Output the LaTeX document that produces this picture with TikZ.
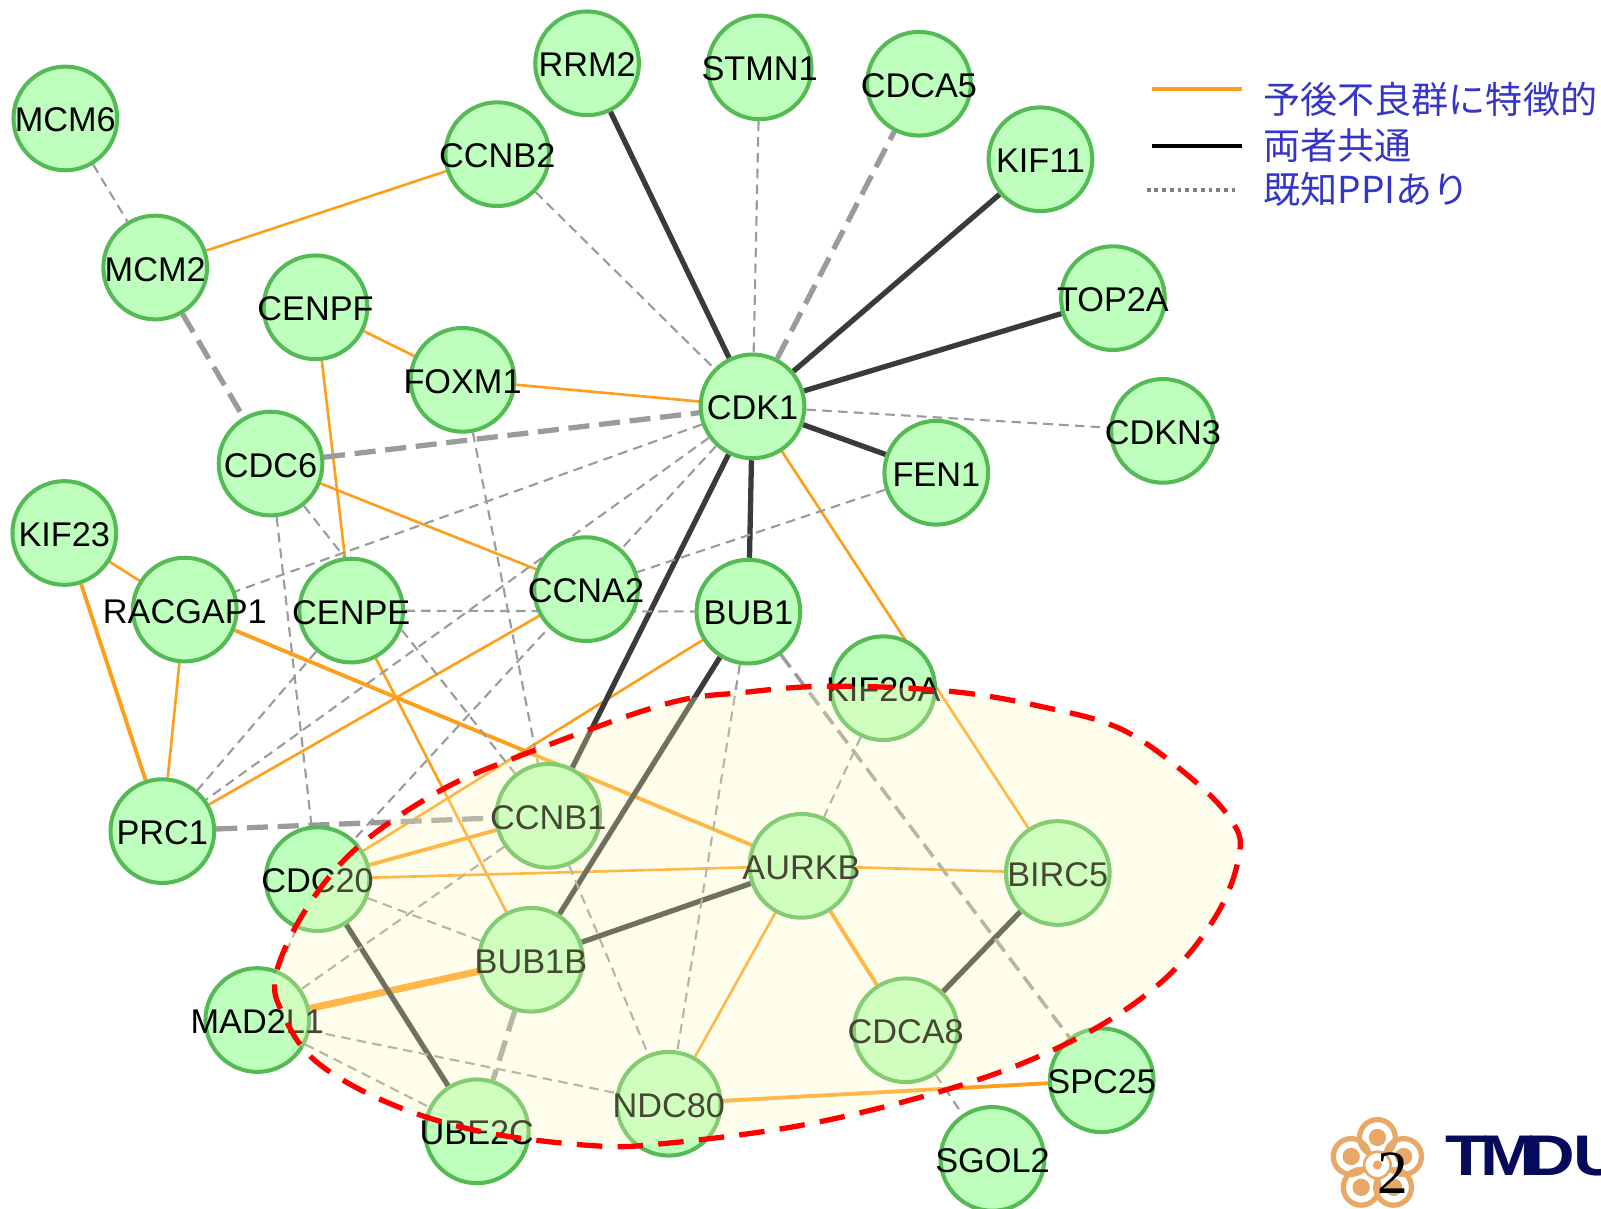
\documentclass[tikz,border=0pt]{standalone}
\usepackage{fontspec}
\setmainfont{Liberation Sans}
\newfontfamily\cjk{Noto Sans CJK JP}
\newfontfamily\pagefont{Liberation Serif}
\usetikzlibrary{positioning,backgrounds}
\definecolor{nodefill}{RGB}{190,255,190}
\definecolor{noderim}{RGB}{84,186,84}
\definecolor{edgeorange}{RGB}{255,158,27}
\definecolor{edgedark}{RGB}{58,58,58}
\definecolor{edgegrey}{RGB}{155,155,155}
\definecolor{legendblue}{RGB}{53,53,200}
\definecolor{logoorange}{RGB}{232,168,104}
\definecolor{logonavy}{RGB}{6,10,90}
\newcommand{\gn}[1]{\makebox[0pt]{\raisebox{-0.9pt}[\height][0pt]{#1}}}
\tikzset{
    gene/.style={circle,draw=noderim,fill=nodefill,line width=2.3pt,minimum size=59pt,inner sep=0pt,
        font=\fontsize{19.5}{20}\selectfont},
    orangeline/.style={edgeorange,line width=1.5pt},
    orangemid/.style={edgeorange,line width=2.2pt},
    orangewide/.style={edgeorange,line width=4pt},
    darkline/.style={edgedark,line width=3pt},
    greyline/.style={edgegrey,line width=1.2pt,dash pattern=on 5.5pt off 3.5pt},
    greywide/.style={edgegrey,line width=3pt,dash pattern=on 12pt off 5.5pt},
    legendtext/.style={legendblue,anchor=west,inner sep=0pt,font=\cjk\fontsize{21.1}{22}\selectfont},
    petal/.style={draw=logoorange,line width=3pt}
}
\begin{document}
\begin{tikzpicture}[x=0.02042cm,y=-0.02042cm]
	\useasboundingbox (0,0) rectangle (1568,1184);
	% nodes
	\node[gene] (MCM6) at (64,116) {\gn{MCM6}};
	\node[gene] (CCNB2) at (487,151) {\gn{CCNB2}};
	\node[gene] (RRM2) at (575,62) {\gn{RRM2}};
	\node[gene] (STMN1) at (744,66) {\gn{STMN1}};
	\node[gene] (CDCA5) at (900,82) {\gn{CDCA5}};
	\node[gene] (KIF11) at (1019,156) {\gn{KIF11}};
	\node[gene] (TOP2A) at (1090,292) {\gn{TOP2A}};
	\node[gene] (CDKN3) at (1139,422) {\gn{CDKN3}};
	\node[gene] (MCM2) at (152,262) {\gn{MCM2}};
	\node[gene] (CENPF) at (309,301) {\gn{CENPF}};
	\node[gene] (FOXM1) at (453,372) {\gn{FOXM1}};
	\node[gene] (CDK1) at (737,398) {\gn{CDK1}};
	\node[gene] (FEN1) at (917,463) {\gn{FEN1}};
	\node[gene] (CDC6) at (265,454) {\gn{CDC6}};
	\node[gene] (KIF23) at (63,522) {\gn{KIF23}};
	\node[gene] (RACGAP1) at (181,597) {\gn{RACGAP1}};
	\node[gene] (CENPE) at (344,598) {\gn{CENPE}};
	\node[gene] (CCNA2) at (574,577) {\gn{CCNA2}};
	\node[gene] (BUB1) at (733,599) {\gn{BUB1}};
	\node[gene] (KIF20A) at (865,674) {\gn{KIF20A}};
	\node[gene] (PRC1) at (159,814) {\gn{PRC1}};
	\node[gene] (CCNB1) at (537,799) {\gn{CCNB1}};
	\node[gene] (CDC20) at (311,861) {\gn{CDC20}};
	\node[gene] (AURKB) at (785,848) {\gn{AURKB}};
	\node[gene] (BIRC5) at (1036,855) {\gn{BIRC5}};
	\node[gene] (BUB1B) at (520,940) {\gn{BUB1B}};
	\node[gene] (MAD2L1) at (252,999) {\gn{MAD2L1}};
	\node[gene] (CDCA8) at (887,1009) {\gn{CDCA8}};
	\node[gene] (SPC25) at (1079,1058) {\gn{SPC25}};
	\node[gene] (NDC80) at (655,1081) {\gn{NDC80}};
	\node[gene] (UBE2C) at (467,1108) {\gn{UBE2C}};
	\node[gene] (SGOL2) at (972,1135) {\gn{SGOL2}};
	% edges stay behind the circles
	\begin{scope}[on background layer]
	\draw [orangeline] (MCM2) -- (CCNB2);
	\draw [orangeline] (CENPF) -- (FOXM1);
	\draw [orangeline] (FOXM1) -- (CDK1);
	\draw [orangeline] (CENPF) -- (CENPE);
	\draw [orangeline] (CDC6) -- (CCNA2);
	\draw [orangeline] (KIF23) -- (RACGAP1);
	\draw [orangemid] (KIF23) -- (PRC1);
	\draw [orangeline] (RACGAP1) -- (PRC1);
	\draw [orangemid] (RACGAP1) -- (AURKB);
	\draw [orangeline] (CENPE) -- (BUB1B);
	\draw [orangeline] (CCNA2) -- (PRC1);
	\draw [orangeline] (BUB1) -- (CDC20);
	\draw [orangeline] (CDK1) -- (BIRC5);
	\draw [orangemid] (CDC20) -- (CCNB1);
	\draw [orangeline] (CDC20) -- (AURKB);
	\draw [orangeline] (AURKB) -- (BIRC5);
	\draw [orangemid] (AURKB) -- (CDCA8);
	\draw [orangeline] (AURKB) -- (NDC80);
	\draw [orangewide] (MAD2L1) -- (BUB1B);
	\draw [orangemid] (NDC80) -- (SPC25);
	\draw [darkline] (CDK1) -- (RRM2);
	\draw [darkline] (CDK1) -- (KIF11);
	\draw [darkline] (CDK1) -- (TOP2A);
	\draw [darkline] (CDK1) -- (FEN1);
	\draw [darkline] (CDK1) -- (BUB1);
	\draw [darkline] (CDK1) -- (CCNB1);
	\draw [darkline] (BUB1) -- (BUB1B);
	\draw [darkline] (BUB1B) -- (AURKB);
	\draw [darkline] (CDC20) -- (UBE2C);
	\draw [darkline] (BIRC5) -- (CDCA8);
	\draw [greywide] (CDK1) -- (CDCA5);
	\draw [greywide] (MCM2) -- (CDC6);
	\draw [greywide] (CDC6) -- (CDK1);
	\draw [greywide] (PRC1) -- (CCNB1);
	\draw [greywide] (BUB1B) -- (UBE2C);
	\draw [greyline] (MCM6) -- (MCM2);
	\draw [greyline] (CCNB2) -- (CDK1);
	\draw [greyline] (STMN1) -- (CDK1);
	\draw [greyline] (CDK1) -- (CDKN3);
	\draw [greyline] (FEN1) -- (CCNA2);
	\draw [greyline] (CDK1) -- (RACGAP1);
	\draw [greyline] (CDK1) -- (PRC1);
	\draw [greyline] (CDK1) -- (CDC20);
	\draw [greyline] (CENPE) -- (PRC1);
	\draw [greyline] (CDC6) -- (CCNB1);
	\draw [greyline] (CDC6) -- (CDC20);
	\draw [greyline] (FOXM1) -- (CCNB1);
	\draw [greyline] (CENPE) -- (BUB1);
	\draw [greyline] (BUB1) -- (NDC80);
	\draw [greyline,line width=2pt,dash pattern=on 9pt off 4.5pt] (BUB1) -- (SPC25);
	\draw [greyline] (KIF20A) -- (AURKB);
	\draw [greyline] (CCNB1) -- (NDC80);
	\draw [greyline] (CDC20) -- (BUB1B);
	\draw [greyline] (CCNB1) -- (MAD2L1);
	\draw [greyline] (CDC20) -- (MAD2L1);
	\draw [greyline] (MAD2L1) -- (NDC80);
	\draw [greyline] (MAD2L1) -- (UBE2C);
	\draw [greyline] (CDCA8) -- (SGOL2);
	\end{scope}
	% marked region
	\draw [red,line width=3pt,dash pattern=on 14.5pt off 8.7pt,fill=yellow!25,fill opacity=0.28,draw opacity=1]
		plot [smooth cycle,tension=0.6] coordinates {(815,672) (930,677) (1020,692) (1100,715) (1170,765) (1207,805) (1214,835) (1195,890)
		(1150,950) (1085,1000) (1000,1042) (900,1075) (780,1103) (650,1120) (580,1122) (470,1108) (380,1080) (310,1040)
		(278,995) (270,955) (300,890) (350,830) (430,775) (510,740) (650,690) (730,678)};
	% legend
	\coordinate (legA) at (1128,87);
	\coordinate (legB) at (1216,87);
	\coordinate (legC) at (1128,143);
	\coordinate (legD) at (1216,143);
	\coordinate (legE) at (1123,186);
	\coordinate (legF) at (1210,186);
	\draw [edgeorange,line width=2.6pt] (legA) -- (legB);
	\draw [black,line width=2.6pt] (legC) -- (legD);
	\draw [gray,line width=2.2pt,dash pattern=on 2.2pt off 2.2pt] (legE) -- (legF);
	\node[legendtext] (txtA) at (1237,97) {予後不良群に特徴的};
	\node[legendtext] (txtB) at (1237,142) {両者共通};
	\node[legendtext] (txtC) at (1237,186) {既知PPIあり};
	% logo
	\foreach \a in {270,342,198,54,126} {
		\draw[petal] (1349,1141) ++(\a:27) circle (17.5);
		\fill[logoorange] (1349,1141) ++(\a:27) circle (8.5);
	}
	\draw[white,fill=white,line width=0pt] (1349,1141) circle (13);
	\draw[logoorange,line width=1.5pt] (1349,1141) circle (13);
	\fill[logoorange] (1349,1141) circle (4.5);
	\node[inner sep=0pt,anchor=west,logonavy,font=\bfseries\fontsize{32.6}{33}\selectfont] (tmdu) at (1415,1132)
		{\scalebox{1.2}[1]{T\kern-3ptM\kern-6ptD\kern-1ptU}};
	\node[inner sep=0pt,font=\pagefont\fontsize{35}{36}\selectfont] (pagenum) at (1364,1149) {2};
\end{tikzpicture}
\end{document}
